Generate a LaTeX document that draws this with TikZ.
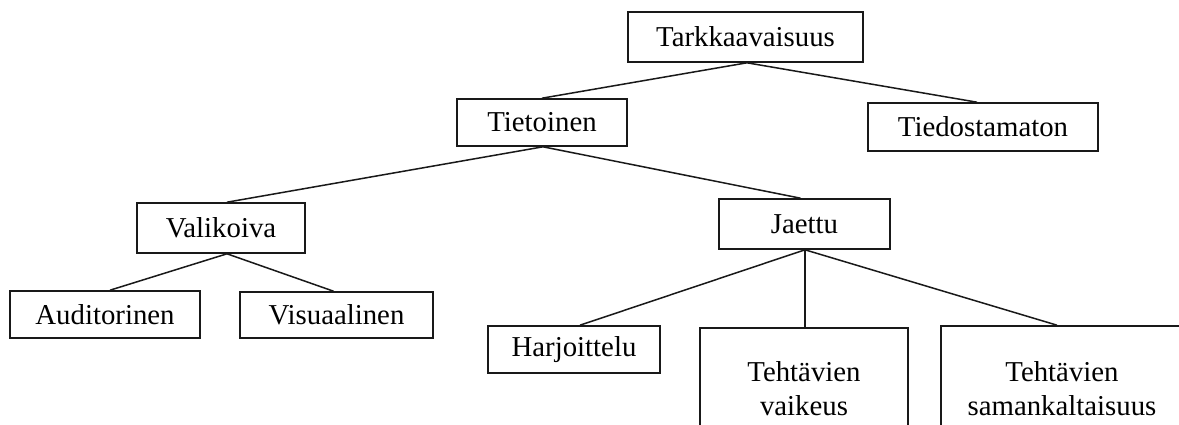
\documentclass[tikz,border=0pt]{standalone}
\usepackage{fontspec}
\setmainfont{Liberation Serif}
\begin{document}
\begin{tikzpicture}[x=1pt,y=-1pt,
  box/.style={draw=black!90,line width=1.6pt,inner sep=0pt,align=center,
    font=\fontsize{28.8}{34}\selectfont,text=black},
  link/.style={draw=black!90,line width=1.5pt}]
\useasboundingbox (0,0) rectangle (1179,425);
\clip (0,0) rectangle (1179,425);
\fill[white] (0,0) rectangle (1179,425);
\node[box,minimum width=235pt,minimum height=50pt] (tark) at (745.5,37) {Tarkkaavaisuus};
\node[box,minimum width=170pt,minimum height=47pt] (tiet) at (542,122.5) {Tietoinen};
\node[box,minimum width=230pt,minimum height=48pt] (tied) at (983,127) {Tiedostamaton};
\node[box,minimum width=168pt,minimum height=50pt] (vali) at (221,228) {Valikoiva};
\node[box,minimum width=171pt,minimum height=50pt] (jaet) at (804.5,224) {Jaettu};
\node[box,minimum width=190pt,minimum height=47pt] (audi) at (105,314.5) {Auditorinen};
\node[box,minimum width=193pt,minimum height=46pt] (visu) at (336.5,315) {Visuaalinen};
\node[box,minimum width=172pt,minimum height=47pt] (harj) at (574,349.5) {Harjoittelu};
\node[box,minimum width=208pt,minimum height=122pt] (vaik) at (804,389) {Tehtävien\\vaikeus};
\node[box,minimum width=242pt,minimum height=126pt] (samk) at (1062,389) {Tehtävien\\samankaltaisuus};
\draw[link] ([xshift=1.5pt]tark.south) -- (tiet.north);
\draw[link] ([xshift=1.5pt]tark.south) -- ([xshift=-6pt]tied.north);
\draw[link] ([xshift=1pt]tiet.south) -- ([xshift=6pt]vali.north);
\draw[link] ([xshift=1pt]tiet.south) -- ([xshift=-4pt]jaet.north);
\draw[link] ([xshift=6pt]vali.south) -- ([xshift=5pt]audi.north);
\draw[link] ([xshift=6pt]vali.south) -- ([xshift=-3pt]visu.north);
\draw[link] ([xshift=0.5pt]jaet.south) -- ([xshift=6pt]harj.north);
\draw[link] ([xshift=0.5pt]jaet.south) -- ([xshift=1pt]vaik.north);
\draw[link] ([xshift=0.5pt]jaet.south) -- ([xshift=-5pt]samk.north);
\end{tikzpicture}
\end{document}
